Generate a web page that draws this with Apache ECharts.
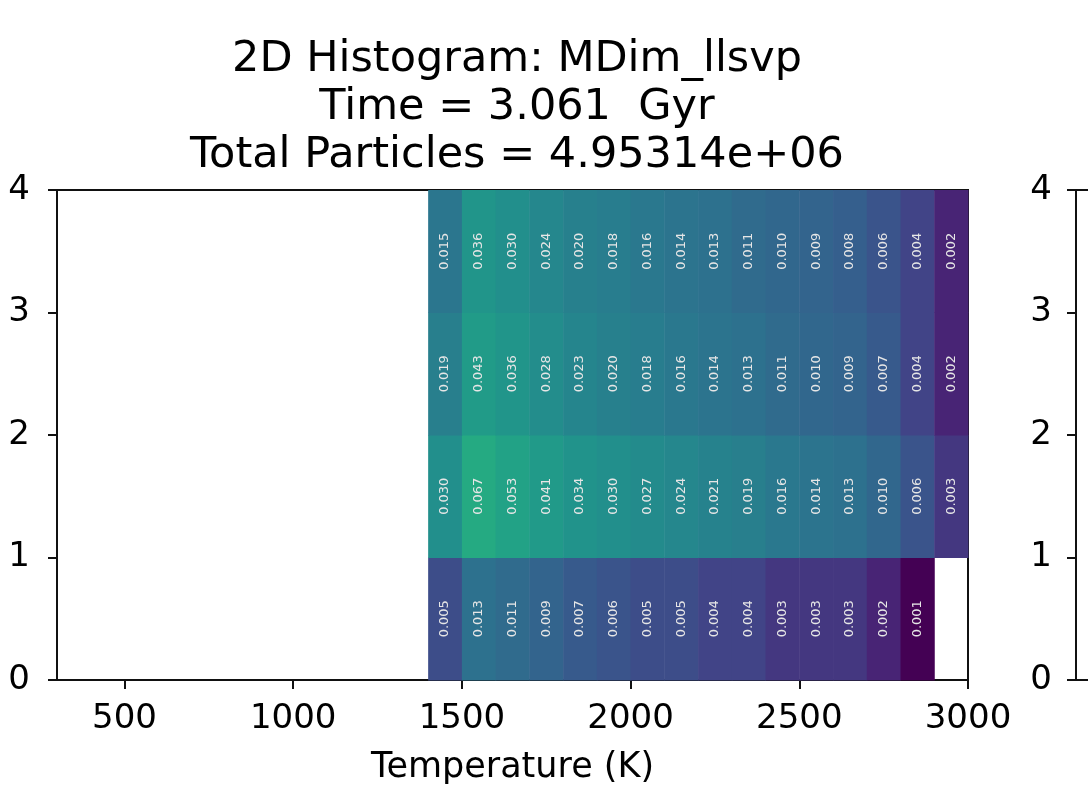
<!DOCTYPE html>
<html>
<head>
<meta charset="utf-8">
<script src="https://cdn.jsdelivr.net/npm/echarts@6/dist/echarts.min.js"></script>
<style>
  * { margin: 0; padding: 0; }
  #chart-container { width: 1088px; height: 791px; background: #fff; }
</style>
</head>
<body>
<div id="chart-container"></div>
<script>
// bin edges: temperature bins start 1400..2900, width 100; y bins 0..3, height 1
var tempBins = [1400, 1500, 1600, 1700, 1800, 1900, 2000, 2100, 2200, 2300, 2400, 2500, 2600, 2700, 2800, 2900]
var yBins = [0, 1, 2, 3]
var row0 = [0.005, 0.013, 0.011, 0.009, 0.007, 0.006, 0.005, 0.005, 0.004, 0.004, 0.003, 0.003, 0.003, 0.002, 0.001, null]
var row1 = [0.030, 0.067, 0.053, 0.041, 0.034, 0.030, 0.027, 0.024, 0.021, 0.019, 0.016, 0.014, 0.013, 0.010, 0.006, 0.003]
var row2 = [0.019, 0.043, 0.036, 0.028, 0.023, 0.020, 0.018, 0.016, 0.014, 0.013, 0.011, 0.010, 0.009, 0.007, 0.004, 0.002]
var row3 = [0.015, 0.036, 0.030, 0.024, 0.020, 0.018, 0.016, 0.014, 0.013, 0.011, 0.010, 0.009, 0.008, 0.006, 0.004, 0.002]
var xTicks = [500, 1000, 1500, 2000, 2500, 3000]

var rows = [row0, row1, row2, row3]
var binW = 100
var binH = 1

var cells = []
rows.forEach(function (row, j) {
  row.forEach(function (v, i) {
    if (v == null) return
    cells.push([tempBins[i], yBins[j], v, Math.log10(v)])
  })
})

var font = 'DejaVu Sans'
var myChart = echarts.init(document.getElementById('chart-container'), null, { renderer: 'canvas' })

var plainNum = function (v) { return String(v) }

var option = {
  animation: false,
  backgroundColor: '#fff',
  title: {
    text: '2D Histogram: MDim_llsvp\nTime = 3.061  Gyr\nTotal Particles = 4.95314e+06',
    left: 512,
    top: 31,
    textAlign: 'center',
    textStyle: { fontFamily: font, fontSize: 43, fontWeight: 'normal', color: '#000', lineHeight: 48 }
  },
  visualMap: {
    show: false,
    type: 'continuous',
    dimension: 3,
    min: -3,
    max: 0,
    seriesIndex: 0,
    inRange: {
      color: ['#440154', '#482475', '#414487', '#355f8d', '#2a788e', '#21918c', '#22a884', '#44bf70', '#7ad151', '#bddf26', '#fde725']
    }
  },
  grid: [
    { left: 57, right: 120, top: 190, bottom: 111, show: true, borderColor: '#111', borderWidth: 2, backgroundColor: 'transparent' },
    { left: 1076, width: 500, top: 190, bottom: 111, show: true, borderColor: '#111', borderWidth: 2, backgroundColor: 'transparent' }
  ],
  xAxis: [
    {
      type: 'value', gridIndex: 0, min: 300, max: 3000,
      name: 'Temperature (K)', nameLocation: 'middle', nameGap: 70,
      nameTextStyle: { fontFamily: font, fontSize: 35, color: '#000' },
      axisLine: { lineStyle: { color: '#111', width: 2 } },
      axisTick: { show: true, length: 9, lineStyle: { color: '#111', width: 2 }, customValues: xTicks },
      axisLabel: { fontFamily: font, fontSize: 34, color: '#000', margin: 22, customValues: xTicks, formatter: plainNum },
      splitLine: { show: false }
    },
    {
      type: 'value', gridIndex: 1, min: 300, max: 3000,
      axisLine: { lineStyle: { color: '#111', width: 2 } },
      axisTick: { show: false },
      axisLabel: { show: false },
      splitLine: { show: false }
    }
  ],
  yAxis: [
    {
      type: 'value', gridIndex: 0, min: 0, max: 4, interval: 1,
      axisLine: { show: true, lineStyle: { color: '#111', width: 2 } },
      axisTick: { show: true, length: 9, lineStyle: { color: '#111', width: 2 } },
      axisLabel: { fontFamily: font, fontSize: 34, color: '#000', margin: 27 },
      splitLine: { show: false }
    },
    {
      type: 'value', gridIndex: 1, min: 0, max: 4, interval: 1,
      axisLine: { show: true, lineStyle: { color: '#111', width: 2 } },
      axisTick: { show: true, length: 9, lineStyle: { color: '#111', width: 2 } },
      axisLabel: { fontFamily: font, fontSize: 34, color: '#000', margin: 24 },
      splitLine: { show: false }
    }
  ],
  series: [
    {
      type: 'custom',
      xAxisIndex: 0,
      yAxisIndex: 0,
      data: cells,
      encode: { x: 0, y: 1 },
      renderItem: function (params, api) {
        var x0 = api.value(0)
        var y0 = api.value(1)
        var p0 = api.coord([x0, y0])
        var p1 = api.coord([x0 + binW, y0 + binH])
        var w = p1[0] - p0[0]
        var h = p0[1] - p1[1]
        return {
          type: 'group',
          children: [
            {
              type: 'rect',
              shape: { x: p0[0], y: p1[1], width: w + 0.5, height: h + 0.5 },
              style: { fill: api.visual('color') }
            },
            {
              type: 'text',
              x: p0[0] + w / 2,
              y: p1[1] + h / 2,
              rotation: Math.PI / 2,
              style: {
                text: api.value(2).toFixed(3),
                fill: '#e6e6e6',
                font: '13px "DejaVu Sans"',
                align: 'center',
                verticalAlign: 'middle'
              }
            }
          ]
        }
      }
    }
  ]
}

myChart.setOption(option)
window.addEventListener('resize', myChart.resize)
</script>
</body>
</html>
